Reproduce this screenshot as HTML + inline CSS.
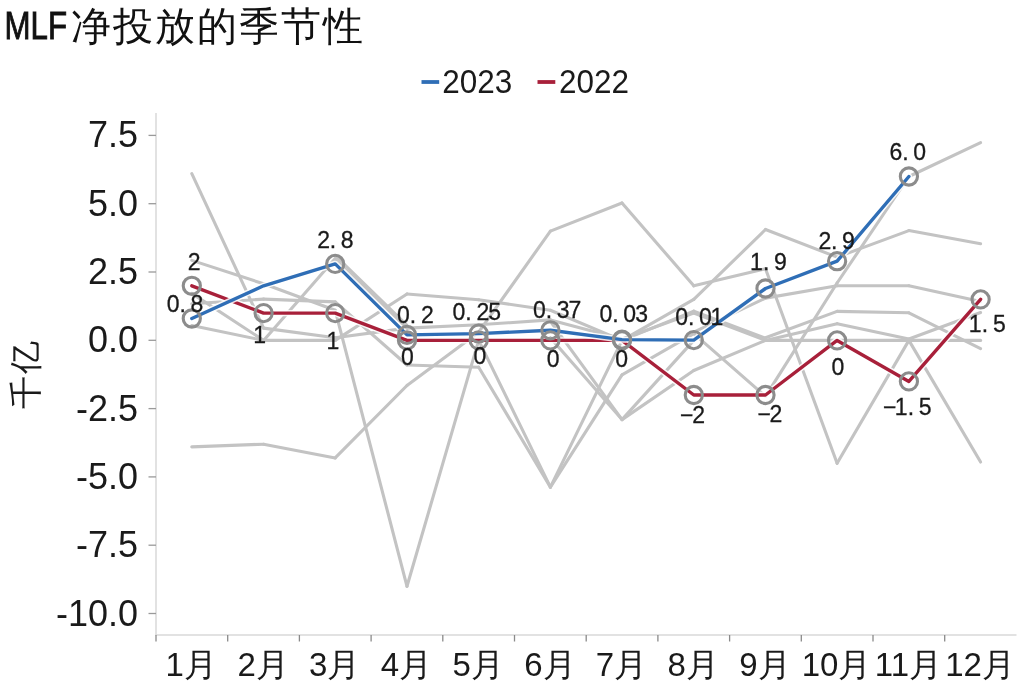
<!DOCTYPE html>
<html><head><meta charset="utf-8"><style>
html,body{margin:0;padding:0;background:#fff;width:1021px;height:685px;overflow:hidden}
svg{display:block;filter:blur(0.35px)}
</style></head><body>
<svg width="1021" height="685" viewBox="0 0 1021 685">
<rect width="1021" height="685" fill="#fff"/>
<text x="4.5" y="38.8" font-family="Liberation Sans, sans-serif" font-size="38.5" fill="#111" stroke="#111" stroke-width="0.9" textLength="62.5" lengthAdjust="spacingAndGlyphs">MLF</text>
<text x="70.5" y="39.5" font-family="Liberation Sans, sans-serif" font-size="40" fill="#111" textLength="292" lengthAdjust="spacing">净投放的季节性</text>
<line x1="421.5" y1="82" x2="439.2" y2="82" stroke="#2f6eb6" stroke-width="3.8"/>
<text x="442.3" y="93.4" font-family="Liberation Sans, sans-serif" font-size="33.5" fill="#1a1a1a" textLength="70" lengthAdjust="spacingAndGlyphs">2023</text>
<line x1="537.5" y1="82" x2="555.3" y2="82" stroke="#a8203a" stroke-width="3.8"/>
<text x="558.9" y="93.4" font-family="Liberation Sans, sans-serif" font-size="33.5" fill="#1a1a1a" textLength="70" lengthAdjust="spacingAndGlyphs">2022</text>
<text transform="translate(37,373.6) rotate(-90)" text-anchor="middle" font-family="Liberation Sans, sans-serif" font-size="33" letter-spacing="2" fill="#1a1a1a">千亿</text>
<line x1="156" y1="113" x2="156" y2="635.5" stroke="#d9d9d9" stroke-width="1.5"/><line x1="155.5" y1="635" x2="1016.5" y2="635" stroke="#d9d9d9" stroke-width="1.5"/><line x1="148.5" y1="135.4" x2="156" y2="135.4" stroke="#9a9a9a" stroke-width="1.3"/><line x1="148.5" y1="203.7" x2="156" y2="203.7" stroke="#9a9a9a" stroke-width="1.3"/><line x1="148.5" y1="272.0" x2="156" y2="272.0" stroke="#9a9a9a" stroke-width="1.3"/><line x1="148.5" y1="340.3" x2="156" y2="340.3" stroke="#9a9a9a" stroke-width="1.3"/><line x1="148.5" y1="408.6" x2="156" y2="408.6" stroke="#9a9a9a" stroke-width="1.3"/><line x1="148.5" y1="476.9" x2="156" y2="476.9" stroke="#9a9a9a" stroke-width="1.3"/><line x1="148.5" y1="545.2" x2="156" y2="545.2" stroke="#9a9a9a" stroke-width="1.3"/><line x1="148.5" y1="613.5" x2="156" y2="613.5" stroke="#9a9a9a" stroke-width="1.3"/><line x1="156.0" y1="635" x2="156.0" y2="641.5" stroke="#8a8a8a" stroke-width="1.3"/><line x1="227.7" y1="635" x2="227.7" y2="641.5" stroke="#8a8a8a" stroke-width="1.3"/><line x1="299.4" y1="635" x2="299.4" y2="641.5" stroke="#8a8a8a" stroke-width="1.3"/><line x1="371.1" y1="635" x2="371.1" y2="641.5" stroke="#8a8a8a" stroke-width="1.3"/><line x1="442.8" y1="635" x2="442.8" y2="641.5" stroke="#8a8a8a" stroke-width="1.3"/><line x1="514.5" y1="635" x2="514.5" y2="641.5" stroke="#8a8a8a" stroke-width="1.3"/><line x1="586.2" y1="635" x2="586.2" y2="641.5" stroke="#8a8a8a" stroke-width="1.3"/><line x1="657.9" y1="635" x2="657.9" y2="641.5" stroke="#8a8a8a" stroke-width="1.3"/><line x1="729.6" y1="635" x2="729.6" y2="641.5" stroke="#8a8a8a" stroke-width="1.3"/><line x1="801.3" y1="635" x2="801.3" y2="641.5" stroke="#8a8a8a" stroke-width="1.3"/><line x1="873.0" y1="635" x2="873.0" y2="641.5" stroke="#8a8a8a" stroke-width="1.3"/><line x1="944.7" y1="635" x2="944.7" y2="641.5" stroke="#8a8a8a" stroke-width="1.3"/>
<g stroke="#c3c3c3" stroke-width="3.1" stroke-linecap="round"><line x1="191.8" y1="173.7" x2="263.6" y2="328.1"/><line x1="191.8" y1="260.4" x2="263.6" y2="283.8"/><line x1="191.8" y1="303.8" x2="263.6" y2="299.1"/><line x1="191.8" y1="293.4" x2="263.6" y2="340.4"/><line x1="191.8" y1="325.6" x2="263.6" y2="340.4"/><line x1="191.8" y1="446.9" x2="263.6" y2="444.2"/><line x1="263.6" y1="283.8" x2="335.2" y2="310.3"/><line x1="263.6" y1="299.1" x2="335.2" y2="301.9"/><line x1="263.6" y1="328.1" x2="335.2" y2="337.7"/><line x1="263.6" y1="340.4" x2="335.2" y2="258.4"/><line x1="263.6" y1="340.4" x2="335.2" y2="340.4"/><line x1="263.6" y1="444.2" x2="335.2" y2="457.9"/><line x1="335.2" y1="255.7" x2="407.0" y2="325.4"/><line x1="335.2" y1="259.8" x2="407.0" y2="328.1"/><line x1="335.2" y1="301.9" x2="407.0" y2="365.0"/><line x1="335.2" y1="310.3" x2="407.0" y2="586.3"/><line x1="335.2" y1="337.7" x2="407.0" y2="328.1"/><line x1="335.2" y1="340.4" x2="407.0" y2="294.0"/><line x1="335.2" y1="457.9" x2="407.0" y2="385.5"/><line x1="407.0" y1="294.0" x2="478.7" y2="299.7"/><line x1="407.0" y1="328.1" x2="478.7" y2="324.8"/><line x1="407.0" y1="365.0" x2="478.7" y2="367.2"/><line x1="407.0" y1="586.3" x2="478.7" y2="340.4"/><line x1="407.0" y1="385.5" x2="478.7" y2="332.2"/><line x1="478.7" y1="332.2" x2="550.4" y2="231.1"/><line x1="478.7" y1="299.7" x2="550.4" y2="310.3"/><line x1="478.7" y1="324.8" x2="550.4" y2="319.9"/><line x1="478.7" y1="340.4" x2="550.4" y2="487.1"/><line x1="478.7" y1="367.2" x2="550.4" y2="487.1"/><line x1="550.4" y1="231.1" x2="622.0" y2="203.0"/><line x1="550.4" y1="310.3" x2="622.0" y2="340.4"/><line x1="550.4" y1="319.9" x2="622.0" y2="339.0"/><line x1="550.4" y1="321.3" x2="622.0" y2="419.6"/><line x1="550.4" y1="337.7" x2="622.0" y2="419.6"/><line x1="550.4" y1="487.1" x2="622.0" y2="340.4"/><line x1="550.4" y1="487.1" x2="622.0" y2="374.8"/><line x1="622.0" y1="203.0" x2="693.8" y2="285.8"/><line x1="622.0" y1="340.4" x2="693.8" y2="299.4"/><line x1="622.0" y1="340.4" x2="693.8" y2="311.2"/><line x1="622.0" y1="339.0" x2="693.8" y2="313.1"/><line x1="622.0" y1="374.8" x2="693.8" y2="333.6"/><line x1="622.0" y1="419.6" x2="693.8" y2="340.4"/><line x1="622.0" y1="419.6" x2="693.8" y2="370.5"/><line x1="693.8" y1="285.8" x2="765.5" y2="268.8"/><line x1="693.8" y1="299.4" x2="765.5" y2="229.5"/><line x1="693.8" y1="311.2" x2="765.5" y2="338.2"/><line x1="693.8" y1="313.1" x2="765.5" y2="340.4"/><line x1="693.8" y1="333.6" x2="765.5" y2="396.4"/><line x1="693.8" y1="332.2" x2="765.5" y2="298.1"/><line x1="693.8" y1="370.5" x2="765.5" y2="340.4"/><line x1="765.5" y1="268.8" x2="837.1" y2="463.3"/><line x1="765.5" y1="229.5" x2="837.1" y2="257.1"/><line x1="765.5" y1="298.1" x2="837.1" y2="285.8"/><line x1="765.5" y1="396.4" x2="837.1" y2="283.0"/><line x1="765.5" y1="337.7" x2="837.1" y2="311.4"/><line x1="765.5" y1="340.4" x2="837.1" y2="323.7"/><line x1="765.5" y1="340.4" x2="837.1" y2="340.4"/><line x1="837.1" y1="257.1" x2="908.9" y2="230.6"/><line x1="837.1" y1="283.0" x2="908.9" y2="176.5"/><line x1="837.1" y1="285.8" x2="908.9" y2="285.8"/><line x1="837.1" y1="311.4" x2="908.9" y2="312.8"/><line x1="837.1" y1="323.7" x2="908.9" y2="339.0"/><line x1="837.1" y1="340.4" x2="908.9" y2="340.4"/><line x1="837.1" y1="463.3" x2="908.9" y2="340.4"/><line x1="908.9" y1="176.5" x2="980.6" y2="142.6"/><line x1="908.9" y1="230.6" x2="980.6" y2="243.7"/><line x1="908.9" y1="285.8" x2="980.6" y2="301.6"/><line x1="908.9" y1="312.8" x2="980.6" y2="348.6"/><line x1="908.9" y1="339.0" x2="980.6" y2="312.5"/><line x1="908.9" y1="340.4" x2="980.6" y2="340.4"/><line x1="908.9" y1="340.4" x2="980.6" y2="462.0"/></g>
<polyline points="191.8,285.8 263.6,313.1 335.2,313.1 407.0,340.4 478.7,340.4 550.4,340.4 622.0,340.4 693.8,395.0 765.5,395.0 837.1,340.4 908.9,381.4 980.6,299.4" fill="none" stroke="#fff" stroke-opacity="0.85" stroke-width="6.4" stroke-linejoin="round" stroke-linecap="round"/><polyline points="191.8,285.8 263.6,313.1 335.2,313.1 407.0,340.4 478.7,340.4 550.4,340.4 622.0,340.4 693.8,395.0 765.5,395.0 837.1,340.4 908.9,381.4 980.6,299.4" fill="none" stroke="#a8203a" stroke-width="3.4" stroke-linejoin="round" stroke-linecap="round"/>
<polyline points="191.8,318.5 263.6,285.8 335.2,263.9 407.0,334.9 478.7,333.6 550.4,330.3 622.0,339.6 693.8,340.1 765.5,288.5 837.1,261.2 908.9,176.5" fill="none" stroke="#fff" stroke-opacity="0.85" stroke-width="6.4" stroke-linejoin="round" stroke-linecap="round"/><polyline points="191.8,318.5 263.6,285.8 335.2,263.9 407.0,334.9 478.7,333.6 550.4,330.3 622.0,339.6 693.8,340.1 765.5,288.5 837.1,261.2 908.9,176.5" fill="none" stroke="#2f6eb6" stroke-width="3.4" stroke-linejoin="round" stroke-linecap="round"/>
<g fill="none" stroke="#8c8c8c" stroke-width="3.1"><circle cx="191.8" cy="318.5" r="8.6"/><circle cx="335.2" cy="263.9" r="8.6"/><circle cx="407.0" cy="334.9" r="8.6"/><circle cx="478.7" cy="333.6" r="8.6"/><circle cx="550.4" cy="330.3" r="8.6"/><circle cx="622.0" cy="339.6" r="8.6"/><circle cx="693.8" cy="340.1" r="8.6"/><circle cx="765.5" cy="288.5" r="8.6"/><circle cx="837.1" cy="261.2" r="8.6"/><circle cx="908.9" cy="176.5" r="8.6"/><circle cx="191.8" cy="285.8" r="8.6"/><circle cx="263.6" cy="313.1" r="8.6"/><circle cx="335.2" cy="313.1" r="8.6"/><circle cx="407.0" cy="340.4" r="8.6"/><circle cx="478.7" cy="340.4" r="8.6"/><circle cx="550.4" cy="340.4" r="8.6"/><circle cx="622.0" cy="340.4" r="8.6"/><circle cx="693.8" cy="395.0" r="8.6"/><circle cx="765.5" cy="395.0" r="8.6"/><circle cx="837.1" cy="340.4" r="8.6"/><circle cx="908.9" cy="381.4" r="8.6"/><circle cx="980.6" cy="299.4" r="8.6"/></g>
<g font-family="Liberation Sans, sans-serif" font-size="36" fill="#1a1a1a"><text x="138" y="147.4" text-anchor="end">7.5</text><text x="138" y="215.7" text-anchor="end">5.0</text><text x="138" y="284.0" text-anchor="end">2.5</text><text x="138" y="352.3" text-anchor="end">0.0</text><text x="138" y="420.6" text-anchor="end">-2.5</text><text x="138" y="488.9" text-anchor="end">-5.0</text><text x="138" y="557.2" text-anchor="end">-7.5</text><text x="138" y="625.5" text-anchor="end">-10.0</text></g>
<g font-family="Liberation Sans, sans-serif" font-size="33" fill="#1a1a1a"><text x="191.3" y="676" text-anchor="middle">1月</text><text x="263.1" y="676" text-anchor="middle">2月</text><text x="334.8" y="676" text-anchor="middle">3月</text><text x="406.5" y="676" text-anchor="middle">4月</text><text x="478.2" y="676" text-anchor="middle">5月</text><text x="549.9" y="676" text-anchor="middle">6月</text><text x="621.5" y="676" text-anchor="middle">7月</text><text x="693.2" y="676" text-anchor="middle">8月</text><text x="765.0" y="676" text-anchor="middle">9月</text><text x="836.6" y="676" text-anchor="middle">10月</text><text x="908.4" y="676" text-anchor="middle">11月</text><text x="980.1" y="676" text-anchor="middle">12月</text></g>
<g font-family="Liberation Sans, sans-serif" font-size="23.0" fill="#1a1a1a" stroke="#1a1a1a" stroke-width="0.3"><text x="166.7 179.4 190.4" y="312.0">0.8</text><text x="317.2 329.8 340.8" y="248.0">2.8</text><text x="397.1 409.8 420.9" y="323.0">0.2</text><text x="452.6 465.3 476.4 488.2" y="320.0">0.25</text><text x="533.0 545.7 556.8 568.6" y="318.1">0.37</text><text x="599.6 612.3 623.3 635.3" y="322.0">0.03</text><text x="675.2 687.9 698.9 710.4" y="325.2">0.01</text><text x="750.0 763.0 774.1" y="269.7">1.9</text><text x="818.4 831.0 842.1" y="248.9">2.9</text><text x="889.5 902.2 913.2" y="160.2">6.0</text><text x="187.8" y="269.9">2</text><text x="253.3" y="343.0">1</text><text x="326.6" y="348.6">1</text><text x="401.1" y="365.0">0</text><text x="473.5" y="363.9">0</text><text x="546.7" y="367.1">0</text><text x="615.3" y="366.6">0</text><text x="680.0 692.2" y="423.3">−2</text><text x="757.4 769.6" y="421.6">−2</text><text x="831.6" y="375.1">0</text><text x="882.9 894.7 907.8 918.8" y="414.6">−1.5</text><text x="968.8 981.8 992.9" y="332.2">1.5</text></g>
</svg>
</body></html>
